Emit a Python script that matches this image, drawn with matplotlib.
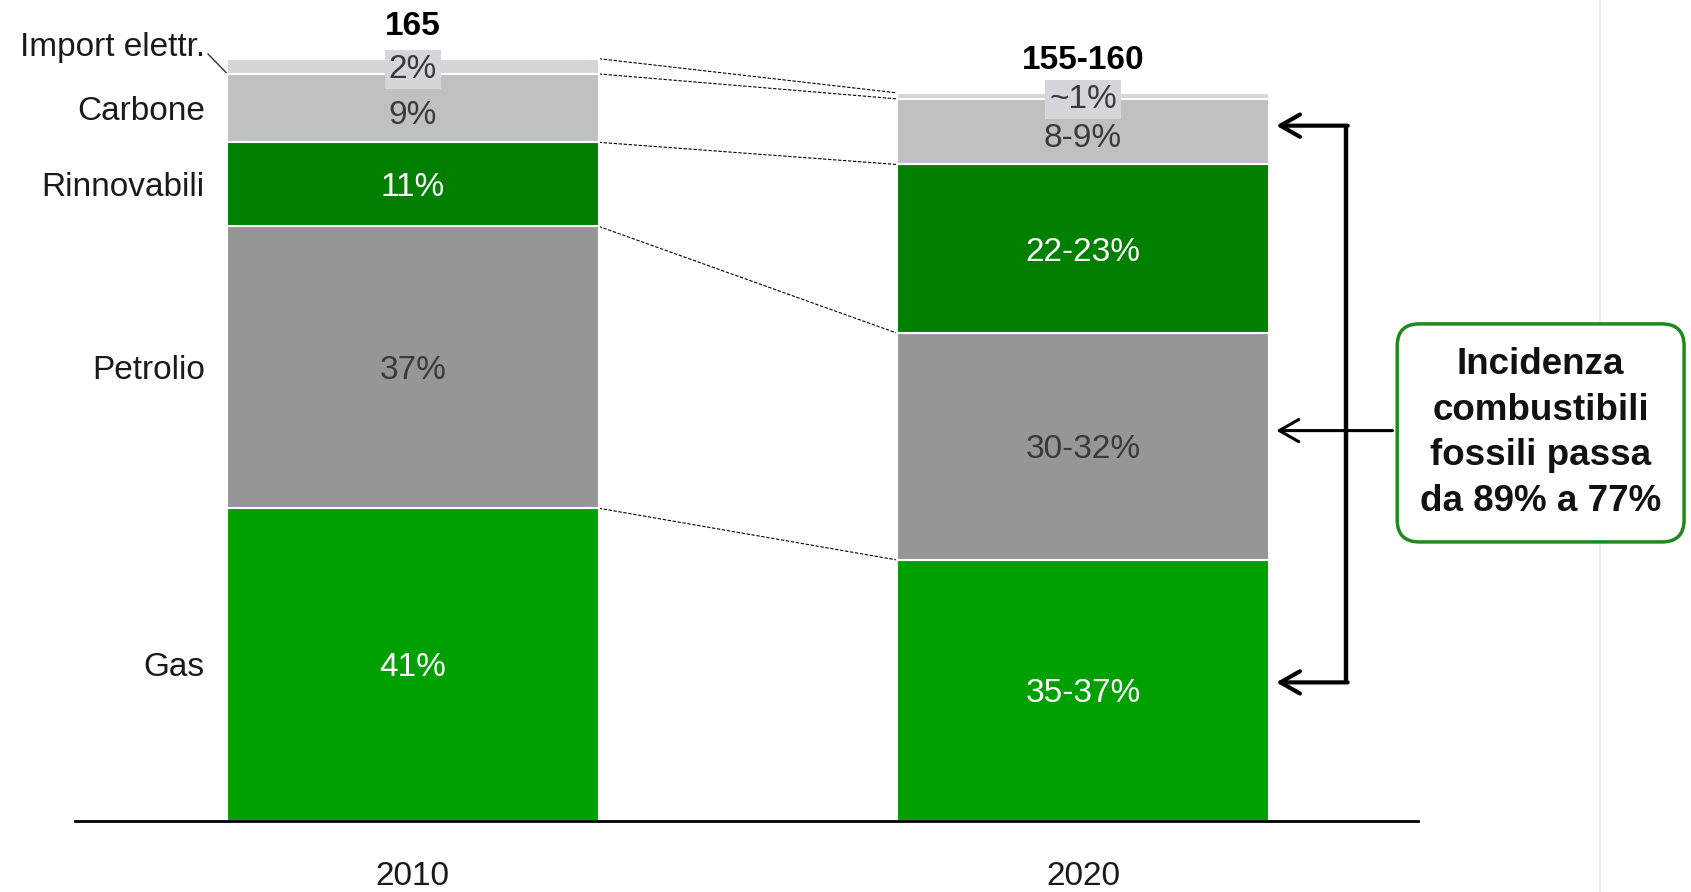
import matplotlib
matplotlib.use('Agg')
import matplotlib.pyplot as plt
from matplotlib.lines import Line2D
import numpy as np

plt.rcParams['font.family'] = ['Liberation Sans', 'DejaVu Sans']

# fabbisogno energetico primario (Mtep), quote per fonte
years = ['2010', '2020']
sources = ['Gas', 'Petrolio', 'Rinnovabili', 'Carbone', 'Import elettr.']
values_2010 = [67.7, 61.0, 18.2, 14.8, 3.3]
values_2020 = [56.5, 49.1, 36.5, 14.2, 1.3]
labels_2010 = ['41%', '37%', '11%', '9%', '2%']
labels_2020 = ['35-37%', '30-32%', '22-23%', '8-9%', '~1%']
totals = ['165', '155-160']
note = 'Incidenza\ncombustibili\nfossili passa\nda 89% a 77%'

colors = ['#00a000', '#969696', '#007f00', '#c0c0c0', '#d5d6da']
txt_colors = ['white', '#3a3a3a', 'white', '#3a3a3a', '#3a3a3a']

W, H = 1691, 892
fig = plt.figure(figsize=(W / 100, H / 100), dpi=100)
ax = fig.add_axes([75 / W, 71 / H, (1418 - 75) / W, 821 / H])
ax.set_xlim(-0.504, 1.5)
ax.set_ylim(0, 177.7)
ax.axis('off')

# separatore pagina sulla destra
fig.add_artist(Line2D([1600 / W, 1600 / W], [0, 1], color='#ebebeb', lw=1.5, zorder=0))

dy = -0.7  # piccolo aggiustamento verticale del testo
bw = 0.555
x = np.arange(len(years))
data = [values_2010, values_2020]
lbls = [labels_2010, labels_2020]
cums = []
for i in range(len(years)):
    bottom = 0
    cum = []
    for k, v in enumerate(data[i]):
        ax.bar(x[i], v, bottom=bottom, width=bw, color=colors[k],
               edgecolor='white', linewidth=1.5, zorder=2)
        yc = bottom + v / 2 + dy
        if k == len(sources) - 1:
            ax.text(x[i], yc, lbls[i][k], ha='center', va='center', fontsize=24,
                    color=txt_colors[k], zorder=4,
                    bbox=dict(boxstyle='square,pad=0.12', fc='#d5d6da', ec='none'))
        else:
            off = -0.8 if k == 3 else 0
            ax.text(x[i], yc + off, lbls[i][k], ha='center', va='center', fontsize=24,
                    color=txt_colors[k], zorder=3)
        bottom += v
        cum.append(bottom)
    cums.append(cum)
    ax.text(x[i], bottom + 7.0, totals[i], ha='center', va='center', fontsize=24,
            fontweight='bold', color='black')
    ax.text(x[i], -12.1, years[i], ha='center', va='center', fontsize=24,
            color='#1a1a1a', clip_on=False)

# linee di collegamento tratteggiate
for k in range(len(sources)):
    ax.plot([x[0] + bw / 2, x[1] - bw / 2], [cums[0][k], cums[1][k]],
            color='black', lw=0.8, ls=(0, (3, 1.5)), zorder=1)

# etichette fonti a sinistra
left = x[0] - bw / 2
bottom = 0
for k, v in enumerate(values_2010):
    if k < len(sources) - 1:
        ax.text(left - 0.033, bottom + v / 2 + dy, sources[k], ha='right', va='center',
                fontsize=24, color='#1a1a1a')
    bottom += v
ax.text(left - 0.033, 167.4, sources[-1], ha='right', va='center', fontsize=24,
        color='#1a1a1a')
ax.plot([left - 0.028, left - 0.001], [166.0, 162.0], color='#333333', lw=1)

# parentesi con frecce
bx = 1.392
tip = x[1] + bw / 2 + 0.011
arrow_y = [150.5, 84.5, 30.0]
ax.plot([bx, bx], [arrow_y[0], arrow_y[-1]], color='black', lw=3.2,
        solid_capstyle='butt', zorder=3)
for yy in (arrow_y[0], arrow_y[-1]):
    ax.annotate('', xy=(tip, yy), xytext=(bx + 0.003, yy),
                arrowprops=dict(arrowstyle='->,head_length=0.7,head_width=0.4',
                                lw=3, color='black', shrinkA=0, shrinkB=0,
                                mutation_scale=20), zorder=3)
ax.annotate('', xy=(tip, arrow_y[1]), xytext=(1.462, arrow_y[1]),
            arrowprops=dict(arrowstyle='->,head_length=0.7,head_width=0.4',
                            lw=2.2, color='black', shrinkA=0, shrinkB=0,
                            mutation_scale=20), zorder=3)

ax.text(1.683, arrow_y[1] - 0.5, note, ha='center', va='center', fontsize=26.5,
        fontweight='bold', color='#111111', linespacing=1.4, zorder=5, clip_on=False,
        bbox=dict(boxstyle='round,pad=0.62,rounding_size=0.6', fc='white',
                  ec='#1e8a1e', lw=2.5))

# linea di base
ax.plot([-0.504, 1.5], [0, 0], color='black', lw=2, zorder=4, clip_on=False)

fig.savefig('out.png', dpi=100)
plt.close()
